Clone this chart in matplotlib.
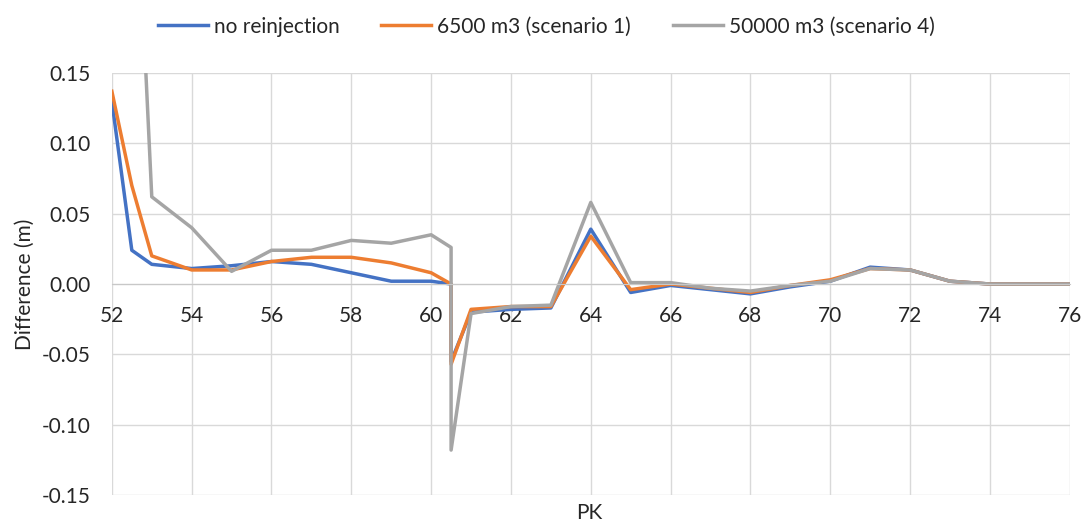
import numpy as np
import matplotlib.pyplot as plt

plt.rcParams['font.family'] = ['Lato', 'DejaVu Sans']

# PK positions (60.5 appears twice: vertical jump)
pk = [52, 52.5, 53, 54, 55, 56, 57, 58, 59, 60, 60.5, 60.5, 61, 62, 63, 64, 65, 66,
      67, 68, 69, 70, 71, 72, 73, 74, 75, 76]

no_reinj = [0.130, 0.024, 0.014, 0.011, 0.013, 0.016, 0.014, 0.008, 0.002, 0.002, 0.000, -0.055,
            -0.020, -0.018, -0.017, 0.039, -0.006, -0.001, -0.004, -0.007, -0.002, 0.002,
            0.012, 0.010, 0.002, 0.000, 0.000, 0.000]
scen1 = [0.137, 0.070, 0.020, 0.010, 0.010, 0.016, 0.019, 0.019, 0.015, 0.008, 0.000, -0.057,
         -0.018, -0.016, -0.016, 0.034, -0.004, 0.000, -0.003, -0.006, -0.001, 0.003,
         0.011, 0.010, 0.002, 0.000, 0.000, 0.000]
scen4 = [0.60, 0.36, 0.062, 0.040, 0.009, 0.024, 0.024, 0.031, 0.029, 0.035, 0.026, -0.118,
         -0.021, -0.016, -0.015, 0.058, 0.001, 0.001, -0.003, -0.005, -0.001, 0.002,
         0.011, 0.010, 0.002, 0.000, 0.000, 0.000]

labels = ["no reinjection", "6500 m3 (scenario 1)", "50000 m3 (scenario 4)"]
colors = ["#4472C4", "#ED7D31", "#A5A5A5"]

fig = plt.figure(figsize=(10.86, 5.25), dpi=100)
ax = fig.add_axes([0.103, 0.057, 0.882, 0.804])

for y, lab, c in zip([no_reinj, scen1, scen4], labels, colors):
    ax.plot(pk, y, color=c, lw=2.5, label=lab)

ax.set_xlim(52, 76)
ax.set_ylim(-0.15, 0.15)
ax.set_xticks(np.arange(52, 77, 2))
ax.set_yticks(np.arange(-0.15, 0.151, 0.05))
ax.yaxis.set_major_formatter(plt.FuncFormatter(lambda v, p: f"{v:.2f}"))
ax.grid(True, color="#D9D9D9", lw=1)
ax.set_axisbelow(True)
for s in ['top', 'right', 'left']:
    ax.spines[s].set_visible(False)
ax.spines['bottom'].set_position(('data', 0))
ax.spines['bottom'].set_color("#C8C8C8")
ax.tick_params(length=0, labelsize=15, colors="#262626")
ax.tick_params(axis='y', pad=15)
ax.tick_params(axis='x', pad=16)

fig.text(0.023, 0.459, "Difference (m)", rotation=90, ha='center', va='center',
         fontsize=15, color="#262626")
fig.text(0.543, 0.023, "PK", ha='center', va='center', fontsize=15, color="#262626")

fig.legend(loc='center', bbox_to_anchor=(0.503, 0.949), ncol=3, frameon=False,
           fontsize=15, handlelength=2.4, columnspacing=2.0, handletextpad=0.3,
           labelcolor="#262626")

plt.savefig("out.png", dpi=100)
